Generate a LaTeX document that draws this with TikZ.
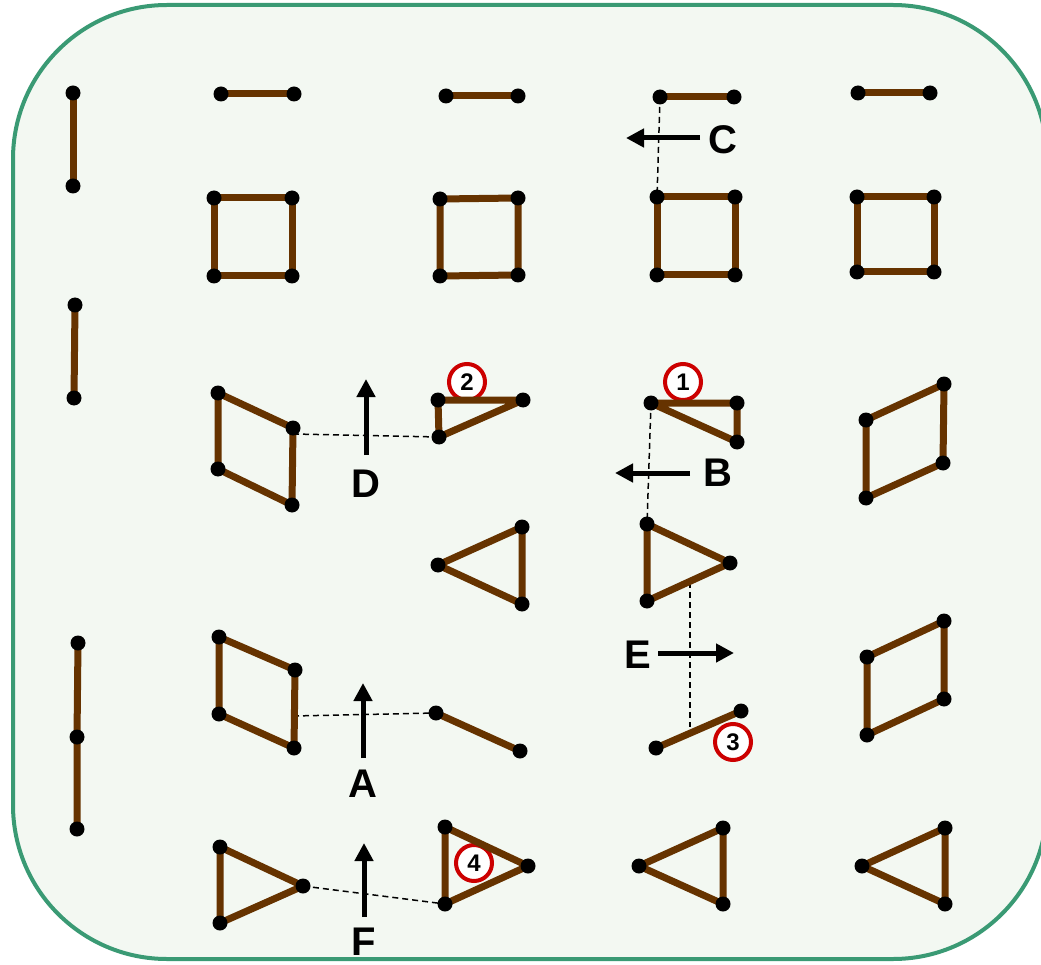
\documentclass[tikz,border=0pt]{standalone}
\usepackage{fontspec}
\setmainfont{Liberation Sans}
\usetikzlibrary{arrows.meta}
\definecolor{framegreen}{HTML}{3A9A74}
\definecolor{bgc}{HTML}{F3F8F2}
\definecolor{stickbrown}{HTML}{663300}
\definecolor{markred}{HTML}{CC0000}
\begin{document}
\begin{tikzpicture}[x=1pt,y=-1pt,
  sticks/.style={draw=stickbrown, line width=7pt, line join=round},
  dot/.style={circle, fill=black, inner sep=0pt, minimum size=15pt},
  guide/.style={draw=black, line width=1.5pt, dash pattern=on 6pt off 4pt},
  mover/.style={draw=black, line width=5pt, -{Triangle[length=18pt,width=18pt]}},
  lab/.style={font=\bfseries\fontsize{40}{40}\selectfont, inner sep=0pt},
  num/.style={circle, draw=markred, line width=4pt, fill=white, minimum size=36pt, inner sep=0pt, font=\bfseries\fontsize{24}{24}\selectfont}
]
\useasboundingbox (0,0) rectangle (1041,965);
\draw[framegreen, line width=4pt, fill=bgc, rounded corners=154pt] (13,5) rectangle (1047,959);

% ---------- coordinates ----------
% column 0
\coordinate (a1) at (73,93);  \coordinate (a2) at (73,186);
\coordinate (b1) at (75,305); \coordinate (b2) at (74,398);
\coordinate (c1) at (78,643); \coordinate (c2) at (77,737); \coordinate (c3) at (77,829);
% column 1
\coordinate (h1a) at (221,94); \coordinate (h1b) at (294,94);
\coordinate (s1a) at (214,198); \coordinate (s1b) at (292,198); \coordinate (s1c) at (292,276); \coordinate (s1d) at (214,276);
\coordinate (p1a) at (218,393); \coordinate (p1b) at (293,428); \coordinate (p1c) at (292,505); \coordinate (p1d) at (218,469);
\coordinate (q1a) at (219,637); \coordinate (q1b) at (295,670); \coordinate (q1c) at (294,748); \coordinate (q1d) at (219,714);
\coordinate (t1a) at (220,847); \coordinate (t1b) at (303,886); \coordinate (t1c) at (220,923);
% column 2
\coordinate (h2a) at (446,96); \coordinate (h2b) at (518,96);
\coordinate (s2a) at (440,199); \coordinate (s2b) at (518,198); \coordinate (s2c) at (518,275); \coordinate (s2d) at (440,276);
\coordinate (r2a) at (438,400); \coordinate (r2b) at (523,400); \coordinate (r2c) at (439,437);
\coordinate (u2a) at (522,527); \coordinate (u2b) at (438,565); \coordinate (u2c) at (522,604);
\coordinate (g2a) at (436,713); \coordinate (g2b) at (520,751);
\coordinate (t2a) at (445,827); \coordinate (t2b) at (528,866); \coordinate (t2c) at (445,904);
% column 3
\coordinate (h3a) at (660,97); \coordinate (h3b) at (734,97);
\coordinate (s3a) at (657,197); \coordinate (s3b) at (735,197); \coordinate (s3c) at (735,275); \coordinate (s3d) at (657,275);
\coordinate (r3a) at (651,403); \coordinate (r3b) at (737,403); \coordinate (r3c) at (737,442);
\coordinate (u3a) at (647,524); \coordinate (u3b) at (730,563); \coordinate (u3c) at (647,601);
\coordinate (g3a) at (656,748); \coordinate (g3b) at (741,711);
\coordinate (t3a) at (723,828); \coordinate (t3b) at (639,866); \coordinate (t3c) at (723,904);
% column 4
\coordinate (h4a) at (858,93); \coordinate (h4b) at (930,93);
\coordinate (s4a) at (857,197); \coordinate (s4b) at (934,197); \coordinate (s4c) at (934,272); \coordinate (s4d) at (857,272);
\coordinate (p4a) at (944,384); \coordinate (p4b) at (943,463); \coordinate (p4c) at (866,498); \coordinate (p4d) at (866,420);
\coordinate (q4a) at (944,621); \coordinate (q4b) at (944,699); \coordinate (q4c) at (867,735); \coordinate (q4d) at (867,657);
\coordinate (t4a) at (945,828); \coordinate (t4b) at (862,866); \coordinate (t4c) at (945,904);
% guide helpers
\coordinate (dL) at (293,434);
\coordinate (aL) at (293,716);
\coordinate (eT) at (690,582);
\coordinate (eB) at (690,727);
% arrow ends
\coordinate (cT) at (700,138); \coordinate (cH) at (626,138);
\coordinate (bT) at (690,473); \coordinate (bH) at (615,473);
\coordinate (dT) at (366,455); \coordinate (dH) at (366,379);
\coordinate (eTail) at (658,653); \coordinate (eHead) at (734,653);
\coordinate (aT) at (363,758); \coordinate (aH) at (363,683);
\coordinate (fT) at (364,917); \coordinate (fH) at (364,843);

% ---------- numbered markers ----------
\node[num] (m2) at (467,382) {2};
\node[num] (m1) at (683,382) {1};
\node[num] (m3) at (733,742) {3};
\node[num] (m4) at (474,863) {4};

% ---------- dashed guides ----------
\draw[guide] (h3a) -- (s3a);
\draw[guide] (r3a) -- (u3a);
\draw[guide] (dL) -- (r2c);
\draw[guide] (eT) -- (eB);
\draw[guide] (aL) -- (g2a);
\draw[guide] (t1b) -- (t2c);

% ---------- sticks ----------
\draw[sticks] (a1) -- (a2);
\draw[sticks] (b1) -- (b2);
\draw[sticks] (c1) -- (c2) -- (c3);
\draw[sticks] (h1a) -- (h1b);
\draw[sticks] (s1a) -- (s1b) -- (s1c) -- (s1d) -- cycle;
\draw[sticks] (p1a) -- (p1b) -- (p1c) -- (p1d) -- cycle;
\draw[sticks] (q1a) -- (q1b) -- (q1c) -- (q1d) -- cycle;
\draw[sticks] (t1a) -- (t1b) -- (t1c) -- cycle;
\draw[sticks] (h2a) -- (h2b);
\draw[sticks] (s2a) -- (s2b) -- (s2c) -- (s2d) -- cycle;
\draw[sticks] (r2a) -- (r2b) -- (r2c) -- cycle;
\draw[sticks] (u2a) -- (u2b) -- (u2c) -- cycle;
\draw[sticks] (g2a) -- (g2b);
\draw[sticks] (t2a) -- (t2b) -- (t2c) -- cycle;
\draw[sticks] (h3a) -- (h3b);
\draw[sticks] (s3a) -- (s3b) -- (s3c) -- (s3d) -- cycle;
\draw[sticks] (r3a) -- (r3b) -- (r3c) -- cycle;
\draw[sticks] (u3a) -- (u3b) -- (u3c) -- cycle;
\draw[sticks] (g3a) -- (g3b);
\draw[sticks] (t3a) -- (t3b) -- (t3c) -- cycle;
\draw[sticks] (h4a) -- (h4b);
\draw[sticks] (s4a) -- (s4b) -- (s4c) -- (s4d) -- cycle;
\draw[sticks] (p4a) -- (p4b) -- (p4c) -- (p4d) -- cycle;
\draw[sticks] (q4a) -- (q4b) -- (q4c) -- (q4d) -- cycle;
\draw[sticks] (t4a) -- (t4b) -- (t4c) -- cycle;

% ---------- dots ----------
\foreach \p in {a1,a2,b1,b2,c1,c2,c3,
  h1a,h1b,s1a,s1b,s1c,s1d,p1a,p1b,p1c,p1d,q1a,q1b,q1c,q1d,t1a,t1b,t1c,
  h2a,h2b,s2a,s2b,s2c,s2d,r2a,r2b,r2c,u2a,u2b,u2c,g2a,g2b,t2a,t2b,t2c,
  h3a,h3b,s3a,s3b,s3c,s3d,r3a,r3b,r3c,u3a,u3b,u3c,g3a,g3b,t3a,t3b,t3c,
  h4a,h4b,s4a,s4b,s4c,s4d,p4a,p4b,p4c,p4d,q4a,q4b,q4c,q4d,t4a,t4b,t4c}
  \node[dot] (\p-dot) at (\p) {};

% ---------- move arrows and labels ----------
\draw[mover] (cT) -- (cH);
\draw[mover] (bT) -- (bH);
\draw[mover] (dT) -- (dH);
\draw[mover] (eTail) -- (eHead);
\draw[mover] (aT) -- (aH);
\draw[mover] (fT) -- (fH);
\node[lab] (lC) at (723,140) {C};
\node[lab] (lB) at (718,473) {B};
\node[lab] (lD) at (366,484) {D};
\node[lab] (lE) at (638,655) {E};
\node[lab] (lA) at (363,784) {A};
\node[lab] (lF) at (364,942) {F};
\end{tikzpicture}
\end{document}
